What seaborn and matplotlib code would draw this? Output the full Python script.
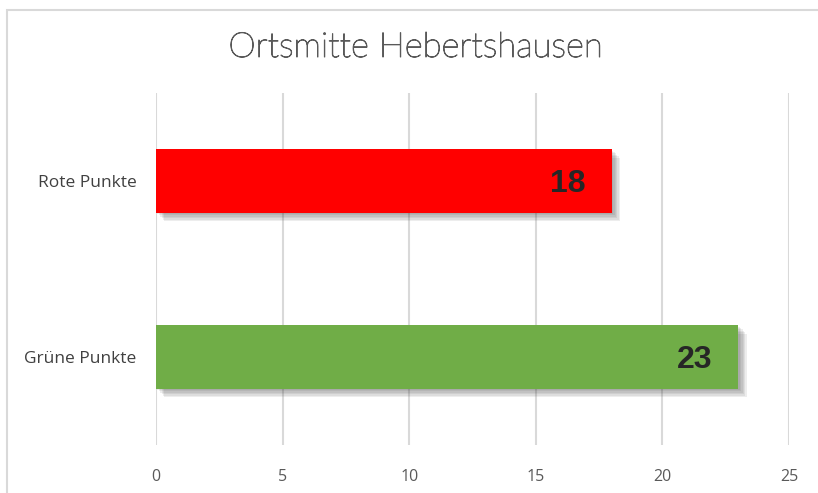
import matplotlib
matplotlib.use("Agg")
import matplotlib.pyplot as plt
import matplotlib.patheffects as pe
from matplotlib.patches import Rectangle
import seaborn as sns

# data
categories = ["Rote Punkte", "Grüne Punkte"]
values = [18, 23]
bar_colors = ["#ff0000", "#70ad47"]
x_ticks = [0, 5, 10, 15, 20, 25]
title = "Ortsmitte Hebertshausen"

sns.set_style("white")
plt.rcParams["font.family"] = ["Open Sans", "DejaVu Sans"]

fig = plt.figure(figsize=(8.18, 4.93), dpi=100)
ax = fig.add_axes([156 / 818, 1 - 445 / 493, (789 - 156) / 818, (445 - 93) / 493])

sns.barplot(x=values, y=categories, hue=categories, palette=bar_colors,
            orient="h", width=0.36, legend=False, ax=ax, saturation=1, linewidth=0)

# soft drop shadow: stack of faint offset copies
shadow = [pe.SimplePatchShadow(offset=(d, -d), shadow_rgbFace="#404040", alpha=0.09)
          for d in (1, 2, 3, 4, 5, 6)]
for p in ax.patches:
    p.set_path_effects(shadow + [pe.Normal()])

# value labels inside the bar end
for i, v in enumerate(values):
    ax.annotate(str(v), xy=(v, i), xytext=(-26, -3), textcoords="offset pixels",
                ha="right", va="center", fontsize=23, fontweight="bold", color="#262626",
                family=["Liberation Sans", "DejaVu Sans"])

ax.set_xlim(0, 25)
ax.set_ylim(1.5, -0.5)
ax.set_xticks(x_ticks)
ax.grid(axis="x", color="#d9d9d9", linewidth=1.5)
ax.set_axisbelow(True)
for s in ax.spines.values():
    s.set_visible(False)
ax.tick_params(axis="x", length=0, pad=17, labelsize=11.5, labelcolor="#595959")
ax.tick_params(axis="y", length=0, pad=14, labelsize=12.5, labelcolor="#404040")
ax.set_xlabel("")
ax.set_ylabel("")

fig.text(416 / 818, 1 - 47 / 493, title, ha="center", va="center", fontsize=25,
         color="#595959", family=["Lato", "DejaVu Sans"], fontweight="light",
         path_effects=[pe.withStroke(linewidth=0.7, foreground="#595959")])

# outer chart border
fig.patches.append(Rectangle((7 / 818, -0.1), 1.2, 0.1 + 1 - 10 / 493, transform=fig.transFigure,
                             fill=False, edgecolor="#d9d9d9", linewidth=1.5))

fig.savefig("out.png", dpi=100)
